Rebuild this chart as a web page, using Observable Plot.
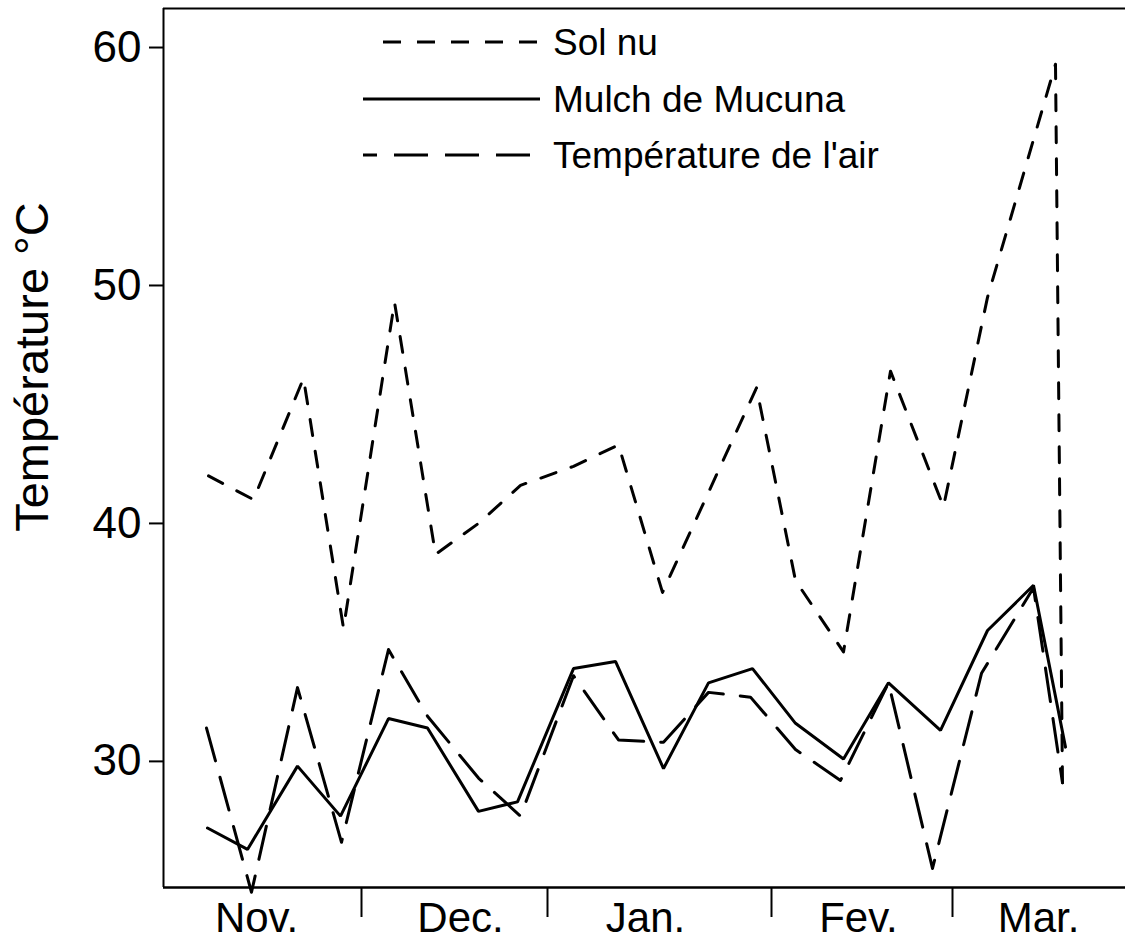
<!DOCTYPE html>
<html>
<head>
<meta charset="utf-8">
<script src="https://cdn.jsdelivr.net/npm/d3@7"></script>
<script src="https://cdn.jsdelivr.net/npm/@observablehq/plot@0.6"></script>
<style>
  body { margin: 0; background: #fff; }
  #chart { width: 1125px; height: 945px; }
</style>
</head>
<body>
<div id="chart"></div>
<script>
// Position along the season (linear units, 0 = left axis), temperatures in °C
const solX   = [45, 90, 140, 180, 231, 272, 315, 357, 410, 455, 499, 593, 632, 680, 727, 780, 824, 892, 899];
const solY   = [42.0, 41.0, 46.1, 35.6, 49.3, 38.7, 40.0, 41.6, 42.4, 43.3, 37.1, 45.7, 37.6, 34.6, 46.4, 40.7, 49.5, 59.3, 29.0];

const mulchX = [44, 84, 134, 177, 225, 264, 315, 354, 410, 452, 500, 545, 589, 632, 680, 725, 777, 824, 870, 902];
const mulchY = [27.2, 26.3, 29.8, 27.7, 31.8, 31.4, 27.9, 28.3, 33.9, 34.2, 29.7, 33.3, 33.9, 31.6, 30.1, 33.3, 31.3, 35.5, 37.4, 30.6];

const airX   = [43, 88, 134, 178, 225, 264, 315, 357, 410, 455, 500, 545, 587, 632, 677, 725, 769, 818, 870, 899];
const airY   = [31.4, 24.5, 33.1, 26.6, 34.7, 31.9, 29.3, 27.7, 33.6, 30.9, 30.8, 32.9, 32.7, 30.5, 29.2, 33.3, 25.5, 33.7, 37.3, 29.1];

const monthNames   = ["Nov.", "Dec.", "Jan.", "Fev.", "Mar."];
const monthCenters = [93, 297, 482, 695, 875];
const monthBounds  = [198, 384, 608, 789];

const yTicks  = [30, 40, 50, 60];
const xDomain = [0, 962];
const yDomain = [24.7, 61.64];

const yLabel = "Température °C";
const legendLabels = ["Sol nu", "Mulch de Mucuna", "Température de l'air"];
const legendDash   = ["18,16", null, "34,17"];

const FONT = "'Liberation Sans', Arial, Helvetica, sans-serif";

const toRows = (xs, ys) => xs.map((x, i) => ({x, y: ys[i]}));
const solData = toRows(solX, solY);
const mulchData = toRows(mulchX, mulchY);
const airData = toRows(airX, airY);

const plot = Plot.plot({
  width: 1125,
  height: 945,
  marginLeft: 163,
  marginRight: 0,
  marginTop: 8,
  marginBottom: 58,
  style: {fontFamily: FONT, fontSize: "44px", color: "black", background: "white", overflow: "visible"},
  x: {domain: xDomain},
  y: {domain: yDomain},
  marks: [
    Plot.axisY({ticks: yTicks, tickSize: 14, tickPadding: 8, tickFormat: d => String(d), label: null, strokeWidth: 2}),
    Plot.axisX({ticks: monthBounds, tickSize: 30, tickFormat: () => "", label: null, strokeWidth: 2}),
    Plot.text(monthNames, {x: monthCenters, text: d => d, frameAnchor: "bottom", dy: 31, fontSize: 42, lineAnchor: "middle", textAnchor: "middle"}),
    Plot.text([yLabel], {text: d => d, frameAnchor: "left", dx: -131, dy: -81, rotate: -90, fontSize: 47, textAnchor: "middle", lineAnchor: "middle"}),
    Plot.ruleY([yDomain[0]], {stroke: "black", strokeWidth: 2.5}),
    Plot.ruleY([yDomain[1]], {stroke: "black", strokeWidth: 2}),
    Plot.ruleX([xDomain[0]], {stroke: "black", strokeWidth: 2}),
    Plot.line(mulchData, {x: "x", y: "y", stroke: "black", strokeWidth: 3, strokeLinejoin: "miter"}),
    Plot.line(airData, {x: "x", y: "y", stroke: "black", strokeWidth: 3, strokeDasharray: "34,17"}),
    Plot.line(solData, {x: "x", y: "y", stroke: "black", strokeWidth: 3, strokeDasharray: "16,16"})
  ]
});

document.getElementById("chart").appendChild(plot);

// Legend inside the plot area, top
const svg = d3.select(plot);
const lg = svg.append("g").attr("class", "legend");
const legendRowsY = [42, 99, 155];
const legendLineStart = [383, 363, 363];
legendLabels.forEach((label, i) => {
  const row = lg.append("g");
  row.append("line")
    .attr("x1", legendLineStart[i]).attr("x2", 540)
    .attr("y1", legendRowsY[i]).attr("y2", legendRowsY[i])
    .attr("stroke", "black").attr("stroke-width", 3)
    .attr("stroke-dasharray", legendDash[i])
    .attr("stroke-dashoffset", i === 2 ? 20 : 0);
  row.append("text")
    .attr("x", 553).attr("y", legendRowsY[i]).attr("dy", "0.35em")
    .attr("text-anchor", "start")
    .attr("font-family", FONT).attr("font-size", 37).attr("fill", "black")
    .text(label);
});
</script>
</body>
</html>
